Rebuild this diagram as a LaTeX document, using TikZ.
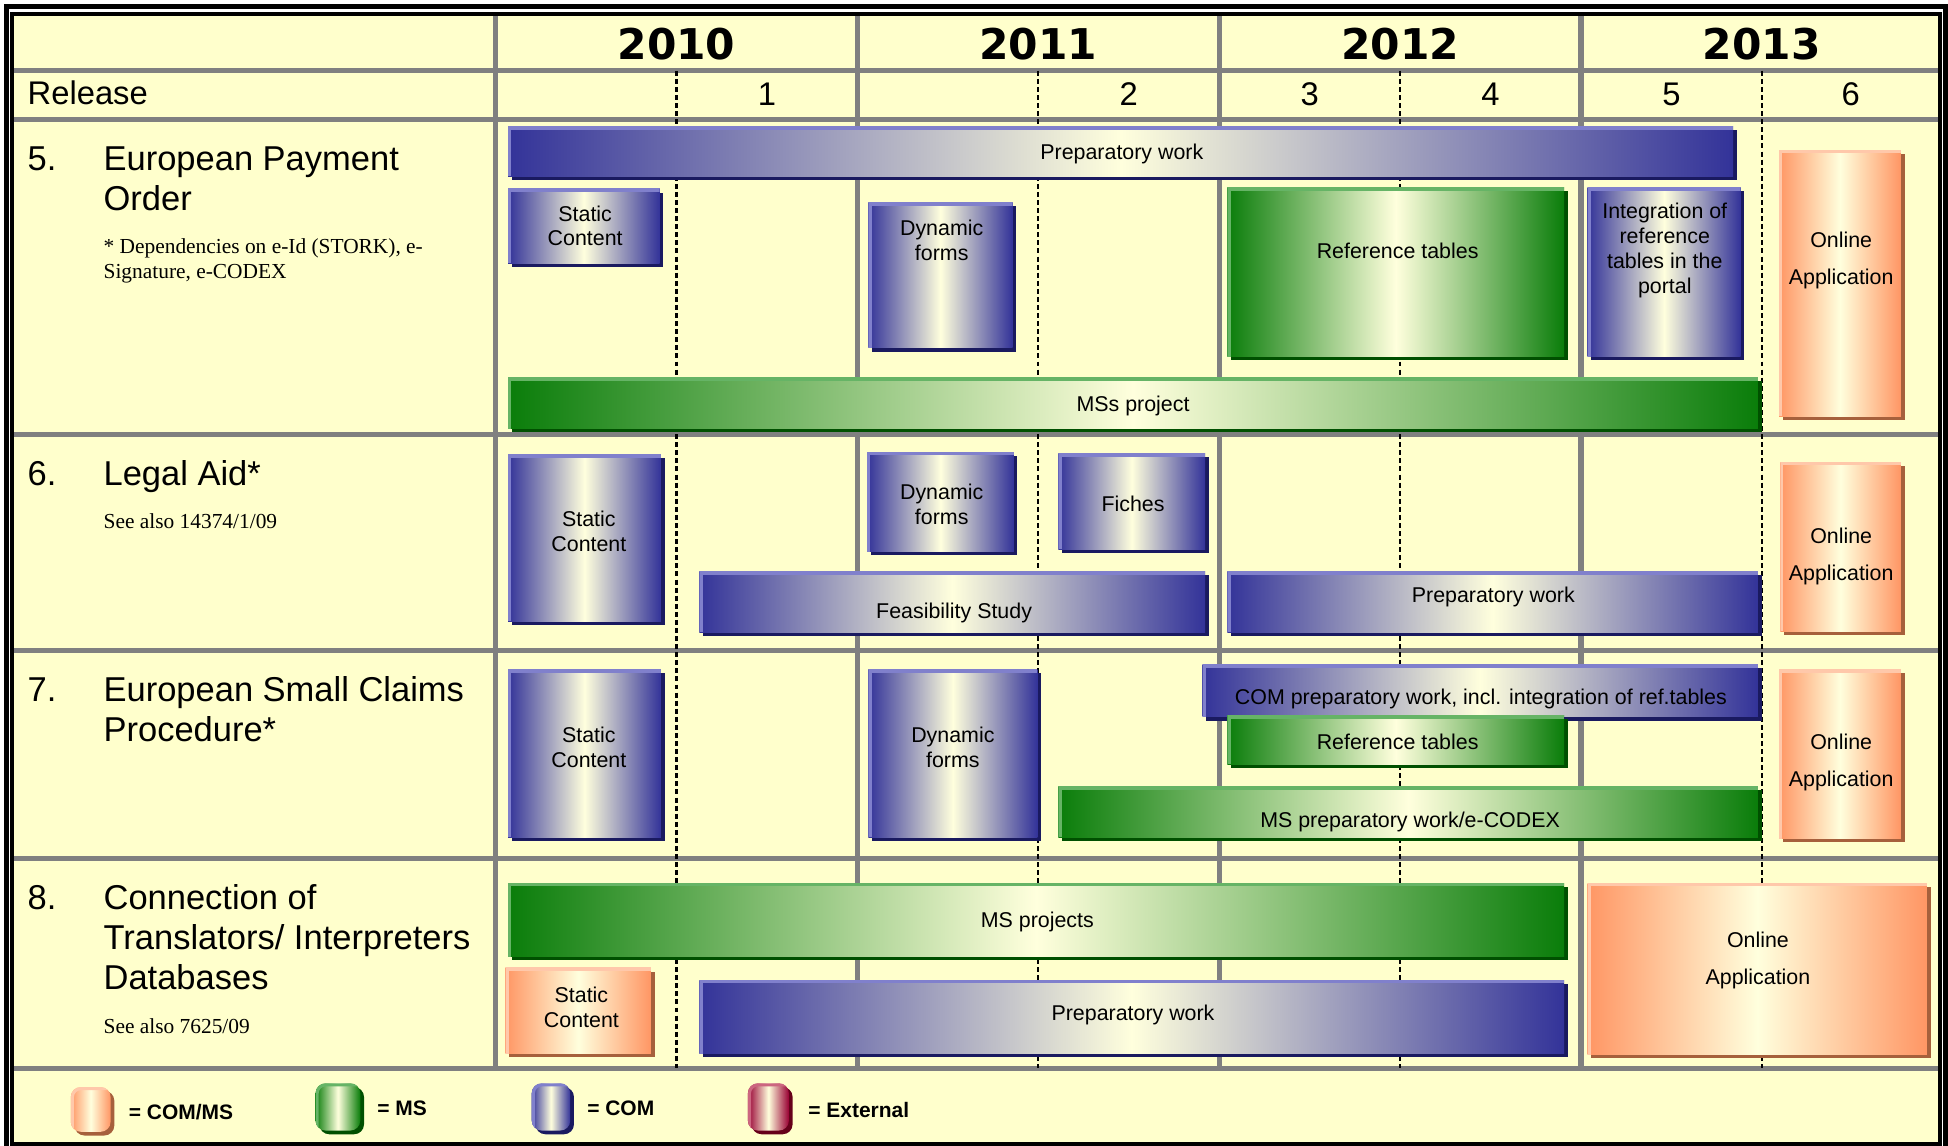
\documentclass[tikz,border=0pt]{standalone}
\usepackage{fontspec}
\setmainfont{Liberation Sans}
\newfontfamily\yearfont{DejaVu Sans}
\newfontfamily\notefont{Liberation Serif}
\usepackage{tikz}
\usetikzlibrary{shadows}
\definecolor{paper}{RGB}{255,255,204}
\definecolor{gridgray}{RGB}{128,128,128}
\definecolor{glow}{RGB}{255,255,221}
\definecolor{comdark}{RGB}{51,51,153}
\definecolor{comlite}{RGB}{128,128,204}
\definecolor{comshade}{RGB}{26,26,96}
\definecolor{msdark}{RGB}{10,125,10}
\definecolor{mslite}{RGB}{102,180,102}
\definecolor{msshade}{RGB}{0,80,0}
\definecolor{cmsdark}{RGB}{255,150,100}
\definecolor{cmslite}{RGB}{255,200,170}
\definecolor{cmsshade}{RGB}{166,96,60}
\definecolor{extdark}{RGB}{153,0,51}
\definecolor{extlite}{RGB}{204,102,128}
\definecolor{extshade}{RGB}{102,0,26}
\tikzset{task/.style={rectangle,inner sep=0pt,left color=#1dark,right color=#1dark,middle color=glow,
  drop shadow={fill=#1shade,opacity=1,shadow xshift=0.3mm,shadow yshift=-0.3mm},
  path picture={\draw[#1lite,line width=0.5mm] (path picture bounding box.south west) |- (path picture bounding box.north east);}}}
\tikzset{com/.style={task=com}}
\tikzset{ms/.style={task=ms}}
\tikzset{cms/.style={task=cms}}
\tikzset{ext/.style={task=ext}}
\tikzset{boxsize/.style 2 args={minimum width=#1mm,minimum height=#2mm}}
\tikzset{keybox/.style={rounded corners=0.8mm}}
\tikzset{lbl/.style={inner sep=0pt,align=center,yshift=-0.18mm,font=\fontsize{4.9}{5.7}\selectfont}}
\tikzset{lbltall/.style={lbl,font=\fontsize{4.9}{8.5}\selectfont}}
\tikzset{rowtitle/.style={anchor=base west,inner sep=0pt,align=left,font=\fontsize{7.9}{9.2}\selectfont}}
\tikzset{rownote/.style={anchor=base west,inner sep=0pt,align=left,font=\notefont\fontsize{4.9}{5.6}\selectfont}}
\tikzset{yearlbl/.style={anchor=base,inner sep=0pt,font=\yearfont\bfseries\fontsize{9.7}{11}\selectfont}}
\tikzset{rellbl/.style={anchor=base,inner sep=0pt,font=\fontsize{7.5}{9}\selectfont}}
\tikzset{keylbl/.style={anchor=west,inner sep=0pt,font=\bfseries\fontsize{4.8}{5.6}\selectfont}}
\tikzset{gridline/.style={gridgray,line width=0.42mm}}
\tikzset{midline/.style={black,line width=0.2mm,dash pattern=on 0.4mm off 0.25mm}}

\begin{document}
\begin{tikzpicture}[x=1mm,y=-1mm]
    \useasboundingbox (0,0) rectangle (156.8,92.2);
    \fill[white] (0,0) rectangle (156.8,92.2);
    \fill[paper] (0.97,1.10) rectangle (156.12,92.06);

    % table rules
    \foreach \y in {5.70,9.65,34.95,52.35,69.13,86.0}
      \draw[gridline] (0.97,\y) -- (156.12,\y);
    \foreach \x in {39.9,69.03,98.13,127.25}
      \draw[gridline] (\x,1.10) -- (\x,86.0);
    \foreach \x in {54.45,83.56,112.7,141.82}
      \draw[midline] (\x,5.70) -- (\x,86.0);

    \draw[line width=0.4mm]  (0.50,0.50) rectangle (156.62,95);
    \draw[line width=0.32mm] (0.97,1.10) rectangle (156.12,92.06);

    % header
    \node[yearlbl] (y10) at (54.45,4.83)  {2010};
    \node[yearlbl] (y11) at (83.56,4.83)  {2011};
    \node[yearlbl] (y12) at (112.7,4.83)  {2012};
    \node[yearlbl] (y13) at (141.82,4.83) {2013};
    \node[rellbl, anchor=base west] (rel) at (2.16,8.45) {Release};
    \node[rellbl] (r1) at (61.74,8.5)  {1};
    \node[rellbl] (r2) at (90.85,8.5)  {2};
    \node[rellbl] (r3) at (105.42,8.5) {3};
    \node[rellbl] (r4) at (119.98,8.5) {4};
    \node[rellbl] (r5) at (134.54,8.5) {5};
    \node[rellbl] (r6) at (148.96,8.5) {6};

    % row titles (multi-line nodes sit on their last baseline)
    \node[rowtitle] (n5) at (2.16,13.74) {5.};
    \node[rowtitle] (t5) at (8.27,16.96) {European Payment\\Order};
    \node[rownote]  (c5) at (8.27,22.4)  {* Dependencies on e-Id (STORK), e-\\Signature, e-CODEX};
    \node[rowtitle] (n6) at (2.16,39.04) {6.};
    \node[rowtitle] (t6) at (8.27,39.04) {Legal Aid*};
    \node[rownote]  (c6) at (8.27,42.53) {See also 14374/1/09};
    \node[rowtitle] (n7) at (2.16,56.48) {7.};
    \node[rowtitle] (t7) at (8.27,59.7)  {European Small Claims\\Procedure*};
    \node[rowtitle] (n8) at (2.16,73.2)  {8.};
    \node[rowtitle] (t8) at (8.27,79.64) {Connection of\\Translators/ Interpreters\\Databases};
    \node[rownote]  (c8) at (8.27,83.2)  {See also 7625/09};

    % 5. European Payment Order
    \node[com, boxsize={98.6}{4.0}]  (p5prep)   at (90.2,12.2)   {};
    \node[com, boxsize={12.2}{6.0}]  (p5static) at (47.0,18.2)   {};
    \node[com, boxsize={11.6}{11.7}] (p5dyn)    at (75.7,22.15)  {};
    \node[ms,  boxsize={27.1}{13.6}] (p5ref)    at (112.35,21.9) {};
    \node[com, boxsize={12.3}{13.6}] (p5integ)  at (133.95,21.9) {};
    \node[ms,  boxsize={100.6}{4.1}] (p5ms)     at (91.2,32.45)  {};
    \node[cms, boxsize={9.8}{21.4}]  (p5online) at (148.1,22.8)  {};
    \node[lbl]     (l5prep)   at (90.3,12.2)  {Preparatory work};
    \node[lbl]     (l5static) at (47.1,18.0)  {Static\\Content};
    \node[lbl]     (l5dyn)    at (75.8,19.2)  {Dynamic\\forms};
    \node[lbl]     (l5ref)    at (112.5,20.0) {Reference tables};
    \node[lbl]     (l5integ)  at (134.0,20.0) {Integration of\\reference\\tables in the\\portal};
    \node[lbl]     (l5ms)     at (91.2,32.5)  {MSs project};
    \node[lbltall] (l5online) at (148.2,20.8) {Online\\Application};

    % 6. Legal Aid
    \node[com, boxsize={12.3}{13.4}] (p6static) at (47.05,43.3)  {};
    \node[com, boxsize={11.8}{8.0}]  (p6dyn)    at (75.7,40.4)   {};
    \node[com, boxsize={11.8}{7.7}]  (p6fiches) at (91.1,40.35)  {};
    \node[com, boxsize={40.7}{4.9}]  (p6feas)   at (76.65,48.45) {};
    \node[com, boxsize={42.7}{4.9}]  (p6prep)   at (120.15,48.45) {};
    \node[cms, boxsize={9.7}{13.6}]  (p6online) at (148.15,44.0) {};
    \node[lbl]     (l6static) at (47.4,42.6)  {Static\\Content};
    \node[lbl]     (l6dyn)    at (75.8,40.45) {Dynamic\\forms};
    \node[lbl]     (l6fiches) at (91.2,40.4)  {Fiches};
    \node[lbl]     (l6feas)   at (76.8,49.2)  {Feasibility Study};
    \node[lbl]     (l6prep)   at (120.2,47.9) {Preparatory work};
    \node[lbltall] (l6online) at (148.2,44.6) {Online\\Application};

    % 7. European Small Claims Procedure
    \node[com, boxsize={12.3}{13.5}] (p7static)  at (47.05,60.65)  {};
    \node[com, boxsize={13.6}{13.5}] (p7dyn)     at (76.7,60.65)   {};
    \node[com, boxsize={44.7}{4.2}]  (p7comprep) at (119.15,55.6)  {};
    \node[ms,  boxsize={27.1}{3.9}]  (p7ref)     at (112.35,59.55) {};
    \node[ms,  boxsize={56.3}{4.1}]  (p7msprep)  at (113.35,65.35) {};
    \node[cms, boxsize={9.8}{13.6}]  (p7online)  at (148.1,60.7)   {};
    \node[lbl]     (l7static)  at (47.4,60.0)  {Static\\Content};
    \node[lbl]     (l7dyn)     at (76.7,60.0)  {Dynamic\\forms};
    \node[lbl]     (l7comprep) at (119.2,56.1) {COM preparatory work, incl. integration of ref.tables};
    \node[lbl]     (l7ref)     at (112.5,59.5) {Reference tables};
    \node[lbl]     (l7msprep)  at (113.5,66.0) {MS preparatory work/e-CODEX};
    \node[lbltall] (l7online)  at (148.2,61.2) {Online\\Application};

    % 8. Translators / Interpreters
    \node[ms,  boxsize={85.0}{5.9}]  (p8ms)     at (83.4,74.05)  {};
    \node[cms, boxsize={11.7}{6.9}]  (p8static) at (46.55,81.35) {};
    \node[com, boxsize={69.6}{5.9}]  (p8prep)   at (91.1,81.85)  {};
    \node[cms, boxsize={27.3}{13.8}] (p8online) at (141.45,78.0) {};
    \node[lbl]     (l8ms)     at (83.5,74.0)  {MS projects};
    \node[lbl]     (l8static) at (46.8,80.9)  {Static\\Content};
    \node[lbl]     (l8prep)   at (91.2,81.5)  {Preparatory work};
    \node[lbltall] (l8online) at (141.5,77.1) {Online\\Application};

    % legend
    \node[cms, keybox, boxsize={3.2}{3.6}] (k1) at (7.3,89.3)   {};
    \node[ms,  keybox, boxsize={3.6}{3.8}] (k2) at (27.2,89.1)  {};
    \node[com, keybox, boxsize={3.1}{3.8}] (k3) at (44.35,89.1) {};
    \node[ext, keybox, boxsize={3.3}{3.8}] (k4) at (61.85,89.1) {};
    \node[keylbl] (kl1) at (10.3,89.5)  {= COM/MS};
    \node[keylbl] (kl2) at (30.3,89.2)  {= MS};
    \node[keylbl] (kl3) at (47.2,89.2)  {= COM};
    \node[keylbl] (kl4) at (65.0,89.35) {= External};
\end{tikzpicture}
\end{document}
